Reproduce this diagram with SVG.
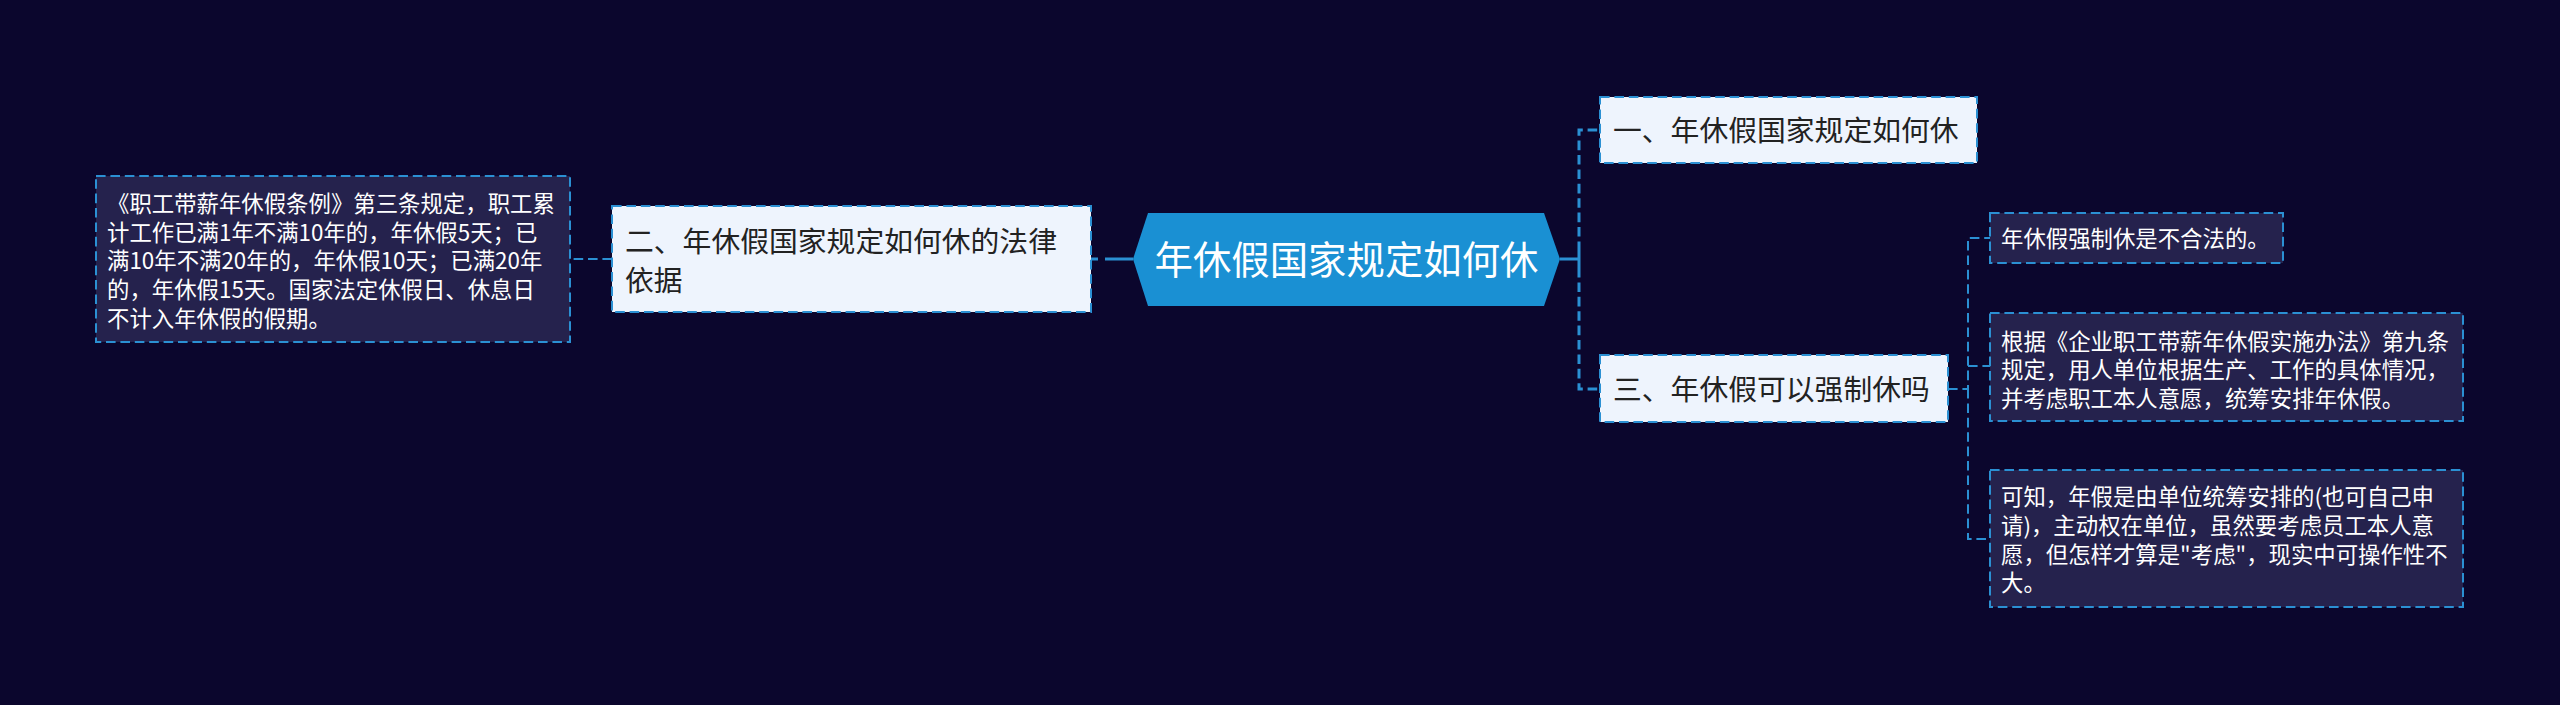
<svg xmlns="http://www.w3.org/2000/svg" width="2560" height="705" viewBox="0 0 2560 705">
<style>
text{font-family:"Noto Sans CJK SC","Noto Sans",sans-serif;}
.dark rect{fill:#25224d;stroke:#2b90d3;stroke-width:2;stroke-dasharray:9.6 4.8;}
.light rect{fill:#eef4fd;stroke:#2b90d3;stroke-width:2;stroke-dasharray:9.6 4.8;}
.dark text{fill:#ffffff;font-size:22.4px;}
.light text{fill:#222222;font-size:28.8px;}
.conn path{fill:none;stroke:#2b90d3;}
.c1{stroke-width:3;stroke-dasharray:9.6 4.8;}
.c2{stroke-width:2;stroke-dasharray:9.6 4.8;}
.solid{stroke-width:3;}
</style>
<rect x="0" y="0" width="2560" height="705" fill="#0b062d"/>
<g id="connectors" class="conn">
<path class="solid" d="M1133,259 H1105"/>
<path class="c1" d="M1098,259 H1091"/>
<path class="c2" d="M612,259 H570"/>
<path class="solid" d="M1560,259 H1579 M1579,251 V268"/>
<path class="c1" d="M1579,251 V130 H1600"/>
<path class="c1" d="M1579,268 V389 H1600"/>
<path class="c2" d="M1948,389 H1968 V238 H1990"/>
<path class="c2" d="M1968,366 H1990"/>
<path class="c2" d="M1968,389 V539 H1990"/>
</g>
<g id="root">
<polygon points="1133,259 1148,213 1544,213 1560,259 1544,306 1148,306" fill="#1a90d3"/>
<text x="1346.5" y="273.6" text-anchor="middle" fill="#ffffff" style="font-size:38.4px">年休假国家规定如何休</text>
</g>
<g id="node-2" class="light">
<rect x="612" y="206" width="479" height="106"/>
<text x="625" y="252.2">二、年休假国家规定如何休的法律</text>
<text x="625" y="290.6">依据</text>
</g>
<g id="node-2-1" class="dark">
<rect x="96" y="176" width="474" height="166"/>
<text x="107" y="211.8">《职工带薪年休假条例》第三条规定，职工累</text>
<text x="107" y="240.6">计工作已满1年不满10年的，年休假5天；已</text>
<text x="107" y="269.4">满10年不满20年的，年休假10天；已满20年</text>
<text x="107" y="298.2">的，年休假15天。国家法定休假日、休息日</text>
<text x="107" y="327">不计入年休假的假期。</text>
</g>
<g id="node-1" class="light">
<rect x="1600" y="97" width="377" height="66"/>
<text x="1613" y="141">一、年休假国家规定如何休</text>
</g>
<g id="node-3" class="light">
<rect x="1600" y="355" width="348" height="67"/>
<text x="1613" y="399.5">三、年休假可以强制休吗</text>
</g>
<g id="node-3-1" class="dark">
<rect x="1990" y="213" width="293" height="50"/>
<text x="2001" y="246.8">年休假强制休是不合法的。</text>
</g>
<g id="node-3-2" class="dark">
<rect x="1990" y="313" width="473" height="108"/>
<text x="2001" y="349.5">根据《企业职工带薪年休假实施办法》第九条</text>
<text x="2001" y="378.3">规定，用人单位根据生产、工作的具体情况，</text>
<text x="2001" y="407.1">并考虑职工本人意愿，统筹安排年休假。</text>
</g>
<g id="node-3-3" class="dark">
<rect x="1990" y="470" width="473" height="137"/>
<text x="2001" y="505">可知，年假是由单位统筹安排的(也可自己申</text>
<text x="2001" y="533.8">请)，主动权在单位，虽然要考虑员工本人意</text>
<text x="2001" y="562.6">愿，但怎样才算是"考虑"，现实中可操作性不</text>
<text x="2001" y="591.4">大。</text>
</g>
</svg>
